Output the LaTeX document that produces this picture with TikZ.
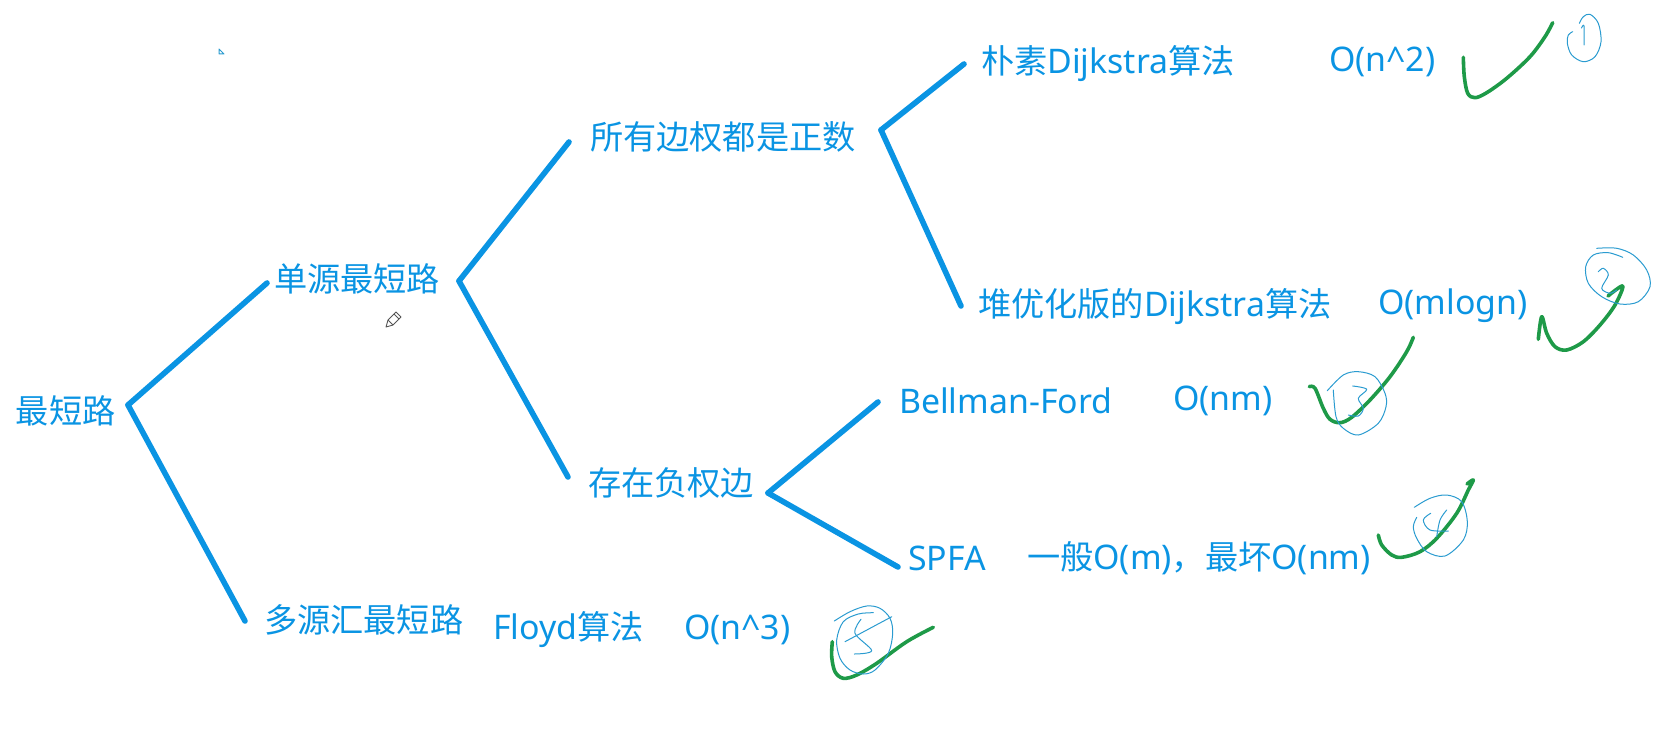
\documentclass[tikz,border=0pt]{standalone}
\usepackage{fontspec}
\setmainfont[Scale=1.02]{Noto Sans}
\newfontfamily\cjk{Noto Sans CJK SC}
\definecolor{inkblue}{HTML}{0A94E3}
\definecolor{thinblue}{HTML}{2A9BD0}
\definecolor{inkgreen}{HTML}{1E9A48}
\definecolor{pencil}{HTML}{555555}
\newcommand{\gou}[1]{\draw[gouline] plot[smooth, tension=0.55] coordinates {#1};}
\newcommand{\quan}[1]{\draw[quanline] plot[smooth, tension=0.55] coordinates {#1};}
\tikzset{
  label/.style={anchor=west, inner sep=0pt, outer sep=0pt, text=inkblue, font=\fontsize{33.2}{40}\selectfont},
  branch/.style={draw=inkblue, line width=5.6pt, line cap=round},
  gouline/.style={draw=inkgreen, line width=3.6pt, line cap=round, line join=round},
  quanline/.style={draw=thinblue, line width=1pt, line cap=round, line join=round}
}
\begin{document}
\begin{tikzpicture}[x=1pt, y=-1pt]
  \useasboundingbox (0,0) rectangle (1672,741);
  % nodes
  \node[label] (root) at (16,411) {\cjk 最短路};
  \node[label] (dan) at (274,279) {\cjk 单源最短路};
  \node[label] (duo) at (264,620) {\cjk 多源汇最短路};
  \node[label] (zheng) at (590,137) {\cjk 所有边权都是正数};
  \node[label] (fu) at (588,483) {\cjk 存在负权边};
  \node[label] (pusu) at (981,64) {{\cjk 朴素}Dijkstra{\cjk 算法}};
  \node[label] (pusut) at (1329,62) {O(n\textasciicircum 2)};
  \node[label] (dui) at (978,307) {{\cjk 堆优化版的}Dijkstra{\cjk 算法}};
  \node[label] (duit) at (1378,306) {O(mlogn)};
  \node[label] (bell) at (899,401) {Bellman-Ford};
  \node[label] (bellt) at (1173,401) {O(nm)};
  \node[label] (spfa) at (908,558) {SPFA};
  \node[label] (spfat) at (1027,558) {{\cjk 一般}O(m){\cjk ，最坏}O(nm)};
  \node[label] (floyd) at (493,630) {Floyd{\cjk 算法}};
  \node[label] (floydt) at (684,630) {O(n\textasciicircum 3)};
  % forks
  \coordinate (forka) at (128,405);
  \coordinate (forkb) at (459,281);
  \coordinate (forkc) at (881,130);
  \coordinate (forkd) at (768,493);
  \foreach \f/\c/\dx/\dy in {forka/dan/-7/4, forka/duo/-19/1, forkb/zheng/-21/5, forkb/fu/-20/-6,
      forkc/pusu/-17/0, forkc/dui/-17/-1, forkd/bell/-21/1, forkd/spfa/-10/9}
    \draw[branch] (\f) -- ([shift={(\dx,\dy)}]\c.west);
  % ticks
  \gou{(1463.3,57.3) (1464.3,76.7) (1467.7,93.3) (1475,97.7) (1486.7,92.7) (1506.7,78.3) (1530,56.7) (1545,36.7) (1552.7,22.7)}
  \gou{(1538.3,339.3) (1541.7,316.7) (1546.7,333.3) (1555,346.7) (1566.7,350) (1583.3,341.7) (1600,325) (1615,305) (1622.7,286) (1608,296)}
  \gou{(1309.3,386.7) (1315,388.3) (1323.3,408.3) (1330,419.3) (1340,422.7) (1351.7,417.3) (1370,400) (1390,376.7) (1406.7,351.7) (1413.3,337.3)}
  \gou{(1378.3,535) (1381.7,545) (1391.7,555) (1401.7,557.3) (1420,551.7) (1436.7,538.3) (1456.7,513.3) (1468.3,490) (1473.3,480) (1467,484)}
  \gou{(832.3,641.7) (831.7,656.7) (835,671.7) (843.3,678.3) (856.7,675) (876.7,663.3) (906.7,641.7) (933.3,627.3)}
  % circled numbers
  \quan{(1572.7,31.7) (1568.3,35) (1567.3,43.3) (1571.7,55) (1583.3,61.7) (1595,56.7) (1601,41.7) (1598.3,23.3) (1590,14.3) (1583.3,16.7) (1579.3,23.3)}
  \quan{(1581.5,28) (1584,26) (1584,45)}
  \quan{(1622.7,257.3) (1608.3,252.7) (1593.3,255) (1585.7,266.7) (1588.3,283.3) (1601.7,296.7) (1620,304) (1638.3,301.7) (1650,286.7) (1646.7,270) (1633.3,255) (1616.7,248.3) (1596.7,248.3)}
  \quan{(1598.3,271.7) (1603.3,268.3) (1608.3,275) (1601.7,288.3) (1610,293.3) (1616.7,290)}
  \quan{(1327.3,390.7) (1343.3,375) (1358.3,371.7) (1375,376.7) (1385,393.3) (1386,406.7) (1378.3,423.3) (1358.3,435) (1343.3,428.3) (1336,416.7) (1333.3,390)}
  \quan{(1352.7,386) (1366.7,389.3) (1358.3,398.3) (1363.3,408.3) (1358.3,416) (1348.3,415)}
  \quan{(1414.3,507.3) (1430,498.3) (1446.7,495) (1461.7,501.7) (1467.3,521.7) (1463.3,540) (1445,556) (1426.7,551.7) (1416.7,538.3) (1413.3,526.7) (1416.7,517.3)}
  \quan{(1430.7,513.3) (1423.3,520) (1430,530) (1448.3,531)}
  \quan{(1446.7,510) (1440,520) (1436.7,536.7)}
  \quan{(834.3,621) (850,611.7) (866.7,606) (880,608.3) (890,618.3) (892.7,633.3) (888.3,653.3) (875,670) (863.3,674) (850,670) (840,658.3) (836.7,640) (843.3,621.7) (858.3,614) (873.3,612.7)}
  \draw[quanline] (891.7,616.7) -- (845,641.7);
  \quan{(861,619.3) (855,633.3) (871.7,650.7) (854.3,654)}
  % cursor marks
  \draw[quanline] (219,54) -- (219,49) -- (224,54) -- cycle;
  \draw[draw=pencil, line width=0.9pt, line join=round, fill=white]
    (386,327) -- (388,320) -- (396,312) -- (401,317) -- (393,325) -- cycle;
  \draw[draw=pencil, line width=0.9pt] (388,320) -- (393,325) (394,314) -- (399,319);
\end{tikzpicture}
\end{document}
